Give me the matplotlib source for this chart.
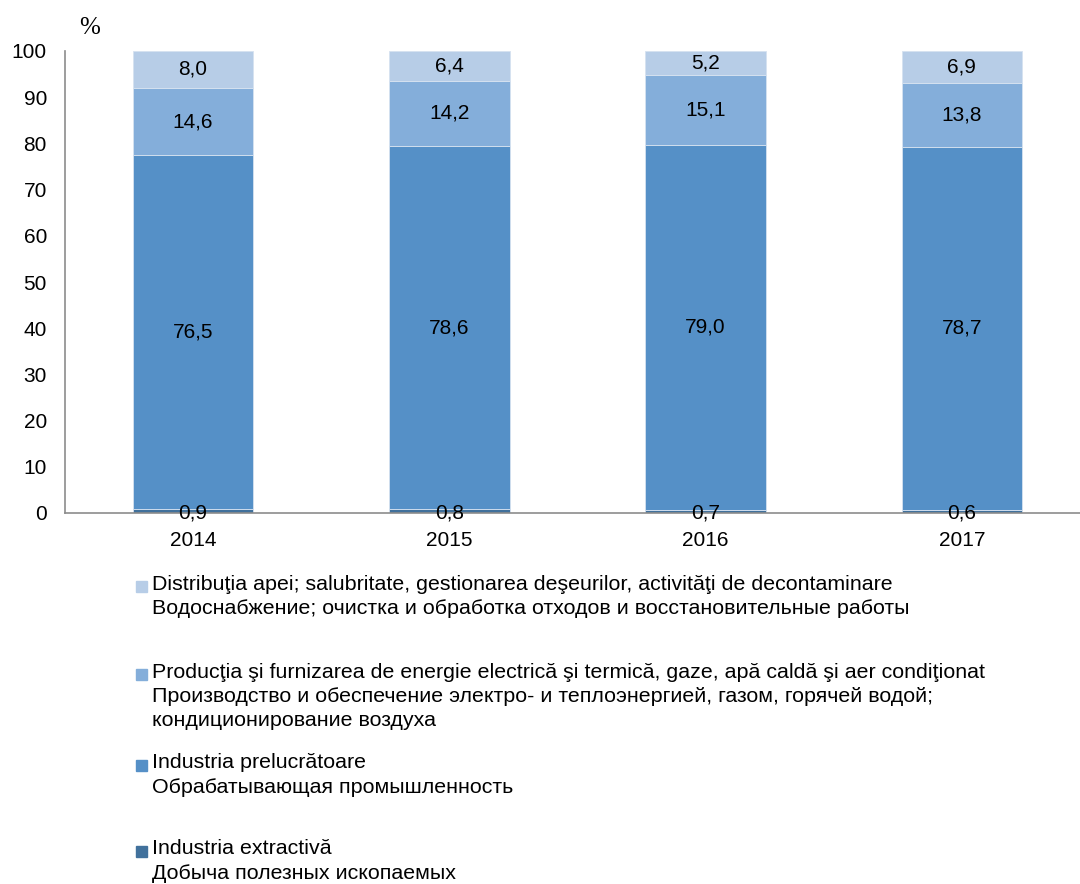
import matplotlib.pyplot as plt
from matplotlib.patches import Rectangle
import numpy as np

years = ['2014', '2015', '2016', '2017']
extractiva = [0.9, 0.8, 0.7, 0.6]
prelucratoare = [76.5, 78.6, 79.0, 78.7]
energie = [14.6, 14.2, 15.1, 13.8]
apa = [8.0, 6.4, 5.2, 6.9]

colors = ['#41719C', '#5590C7', '#84AEDA', '#B7CDE7']
legend_lines = [
    ['Distribuţia apei; salubritate, gestionarea deşeurilor, activităţi de decontaminare',
     'Водоснабжение; очистка и обработка отходов и восстановительные работы'],
    ['Producţia şi furnizarea de energie electrică şi termică, gaze, apă caldă şi aer condiţionat',
     'Производство и обеспечение электро- и теплоэнергией, газом, горячей водой;',
     'кондиционирование воздуха'],
    ['Industria prelucrătoare',
     'Обрабатывающая промышленность'],
    ['Industria extractivă',
     'Добыча полезных ископаемых'],
]

plt.rcParams['font.family'] = ['Liberation Sans', 'DejaVu Sans']
FS = 15

W, H = 1080, 884
fig = plt.figure(figsize=(W / 100, H / 100), dpi=100)
ax = fig.add_axes([65 / W, (H - 513) / H, (1080 - 65) / W, 462 / H])

x = np.arange(len(years))
series = [extractiva, prelucratoare, energie, apa]
bottom = np.zeros(len(years))
for i, vals in enumerate(series):
    vals = np.array(vals)
    ax.bar(x, vals, 0.47, bottom=bottom, color=colors[i],
           edgecolor='#D6E2F0', linewidth=0.6)
    for xi, b, v in zip(x, bottom, vals):
        y = b + v / 2 if i > 0 else 0
        ax.text(xi, y, f'{v:.1f}'.replace('.', ','), ha='center', va='center',
                fontsize=FS, color='black')
    bottom += vals

ax.set_xlim(-0.5, 3.5 - 10 / 256.5)
ax.set_ylim(0, 100)
ax.set_yticks(range(0, 101, 10))
ax.set_xticks(x)
ax.set_xticklabels(years)
ax.tick_params(axis='both', length=0, labelsize=FS)
ax.tick_params(axis='x', pad=13)
ax.tick_params(axis='y', pad=13)
for s in ['top', 'right']:
    ax.spines[s].set_visible(False)
for s in ['left', 'bottom']:
    ax.spines[s].set_color('#8C8C8C')
    ax.spines[s].set_linewidth(1.2)

fig.text(90 / W, 1 - 28 / H, '%', ha='center', va='center', fontsize=18,
         family='Liberation Serif')

# legend drawn by hand, entries stacked from lightest to darkest
starts = [584, 672, 763, 849]
line_h = 24.5
for k, (y0, lines) in enumerate(zip(starts, legend_lines)):
    col = colors[3 - k]
    fig.patches.append(Rectangle((136 / W, 1 - (y0 + 8) / H), 11 / W, 11 / H,
                                 transform=fig.transFigure, color=col))
    for j, t in enumerate(lines):
        fig.text(152 / W, 1 - (y0 + j * line_h) / H, t, ha='left', va='center',
                 fontsize=15.4)

fig.savefig('out.png', dpi=100)
